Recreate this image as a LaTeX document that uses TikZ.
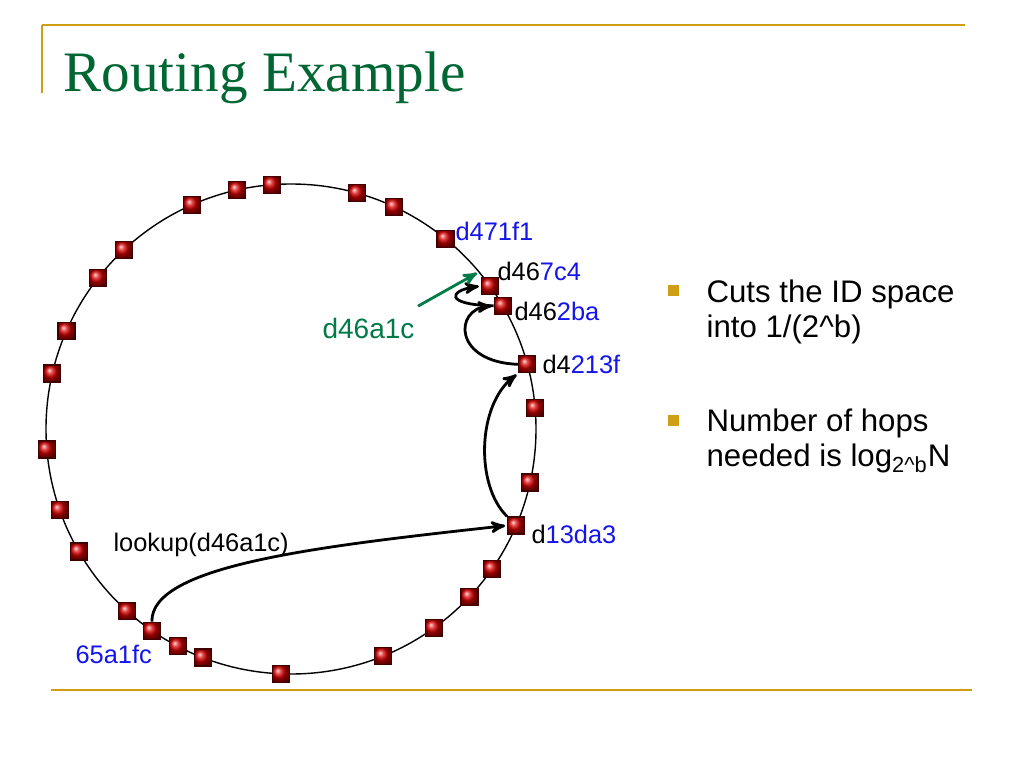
\documentclass[tikz,border=0pt]{standalone}
\usepackage{fontspec}
\setmainfont{Liberation Sans}
\newfontfamily\titlefont{Liberation Serif}
\usepackage{tikz}
\usetikzlibrary{arrows,positioning}

\definecolor{slidegold}{RGB}{208,158,20}
\definecolor{titlegreen}{RGB}{0,102,51}
\definecolor{keygreen}{RGB}{0,122,72}
\definecolor{idblue}{RGB}{20,20,235}
\definecolor{peerred}{RGB}{215,0,0}

\begin{document}
\begin{tikzpicture}[x=0.5pt,y=0.5pt,>=stealth',semithick]
\tikzstyle{peer}=[rectangle,draw=black!75!red,ball color=peerred,minimum size=8.5pt,inner sep=0pt]
\tikzstyle{peerid}=[inner sep=0pt,anchor=base west]
\tikzstyle{hop}=[->,line width=1.4pt,shorten >=1pt]
\tikzstyle{rule}=[draw=slidegold,line width=1pt]
\tikzset{font=\fontsize{12.7}{15}\selectfont}

  \useasboundingbox[fill=white] (0,0) rectangle (1024,768);

  % slide frame and title
  \draw[rule] (42,743) -- (965,743);
  \draw[rule] (42,743) -- (42,675);
  \draw[rule] (51,78) -- (972,78);
  \node[inner sep=0pt,anchor=base west,text=titlegreen] (title) at (63,676)
       {\titlefont\fontsize{28.6}{32}\selectfont Routing Example};

  % the ring
  \draw[line width=0.7pt] (291,339) circle (245);

  \begin{scope}[shift={(291,339)}]
        \node[peer] (r0)  at (94.5:245)  {};
        \node[peer] (r1)  at (102.7:245) {};
        \node[peer] (r2)  at (113.8:245) {};
        \node[peer] (r3)  at (133.0:245) {};
        \node[peer] (r4)  at (141.9:245) {};
        \node[peer] (r5)  at (156.4:245) {};
        \node[peer] (r6)  at (166.9:245) {};
        \node[peer] (r7)  at (184.8:245) {};
        \node[peer] (r8)  at (199.3:245) {};
        \node[peer] (r9)  at (210.0:245) {};
        \node[peer] (r10) at (228.1:245) {};
        \node[peer] (r11) at (235.4:245) {};   % 65a1fc
        \node[peer] (r12) at (242.5:245) {};
        \node[peer] (r13) at (248.9:245) {};
        \node[peer] (r14) at (267.6:245) {};
        \node[peer] (r15) at (292.1:245) {};
        \node[peer] (r16) at (305.7:245) {};
        \node[peer] (r17) at (316.8:245) {};
        \node[peer] (r18) at (325.2:245) {};
        \node[peer] (r19) at (336.8:245) {};   % d13da3
        \node[peer] (r20) at (347.4:245) {};
        \node[peer] (r21) at (4.9:245)   {};
        \node[peer] (r22) at (15.3:245)  {};   % d4213f
        \node[peer] (r23) at (30.2:245)  {};   % d462ba
        \node[peer] (r24) at (35.7:245)  {};   % d467c4
        \node[peer] (r25) at (50.9:245)  {};   % d471f1
        \node[peer] (r26) at (65.1:245)  {};
        \node[peer] (r27) at (74.3:245)  {};
  \end{scope}

  % node ids
        \node[peerid] (l25) at (455,528) {\color{idblue}d471f1};
        \node[peerid] (l24) at (497,488) {d46\color{idblue}7c4};
        \node[peerid] (l23) at (514,448) {d46\color{idblue}2ba};
        \node[peerid] (l22) at (542,395) {d4\color{idblue}213f};
        \node[peerid] (l19) at (531,225) {d\color{idblue}13da3};
        \node[peerid] (l11) at (75,105)  {\color{idblue}65a1fc};
        \node[peerid] (lookup) at (113,217) {lookup(d46a1c)};
        \node[peerid,text=keygreen,font=\fontsize{14}{16}\selectfont] (key) at (322,430) {d46a1c};
        \coordinate (tip) at (477,495);

  % routing hops
        \draw[hop] (r11.north) .. controls +(-1,56) and +(-191,-21) .. (r19.west);
        \draw[hop] (r19.north west) .. controls +(-32,31) and +(-41,-31) .. (r22.south west);
        \draw[hop] (r22.west) .. controls +(178:65) and +(185:40) .. (r23.west);
        \draw[hop] (r23.west) .. controls +(179:49) and +(188:33) .. (r24.west);
        \draw[->,keygreen,line width=1.4pt] ([xshift=1.5pt,yshift=5.5pt]key.north east) -- (tip);

  % bullets
        \node[fill=slidegold,minimum size=5.5pt,inner sep=0pt] (b1) at (673,478) {};
        \node[fill=slidegold,minimum size=5.5pt,inner sep=0pt] (b2) at (673,348) {};
        \node[inner sep=0pt,anchor=north west,align=left,font=\fontsize{15.6}{17.5}\selectfont]
             (t1) at (706,489) {Cuts the ID space\\into 1/(2\textasciicircum b)};
        \node[inner sep=0pt,anchor=north west,align=left,font=\fontsize{15.6}{17.5}\selectfont]
             (t2) at (706,360) {Number of hops\\needed is log\textsubscript{2\textasciicircum b}N};

\end{tikzpicture}
\end{document}
